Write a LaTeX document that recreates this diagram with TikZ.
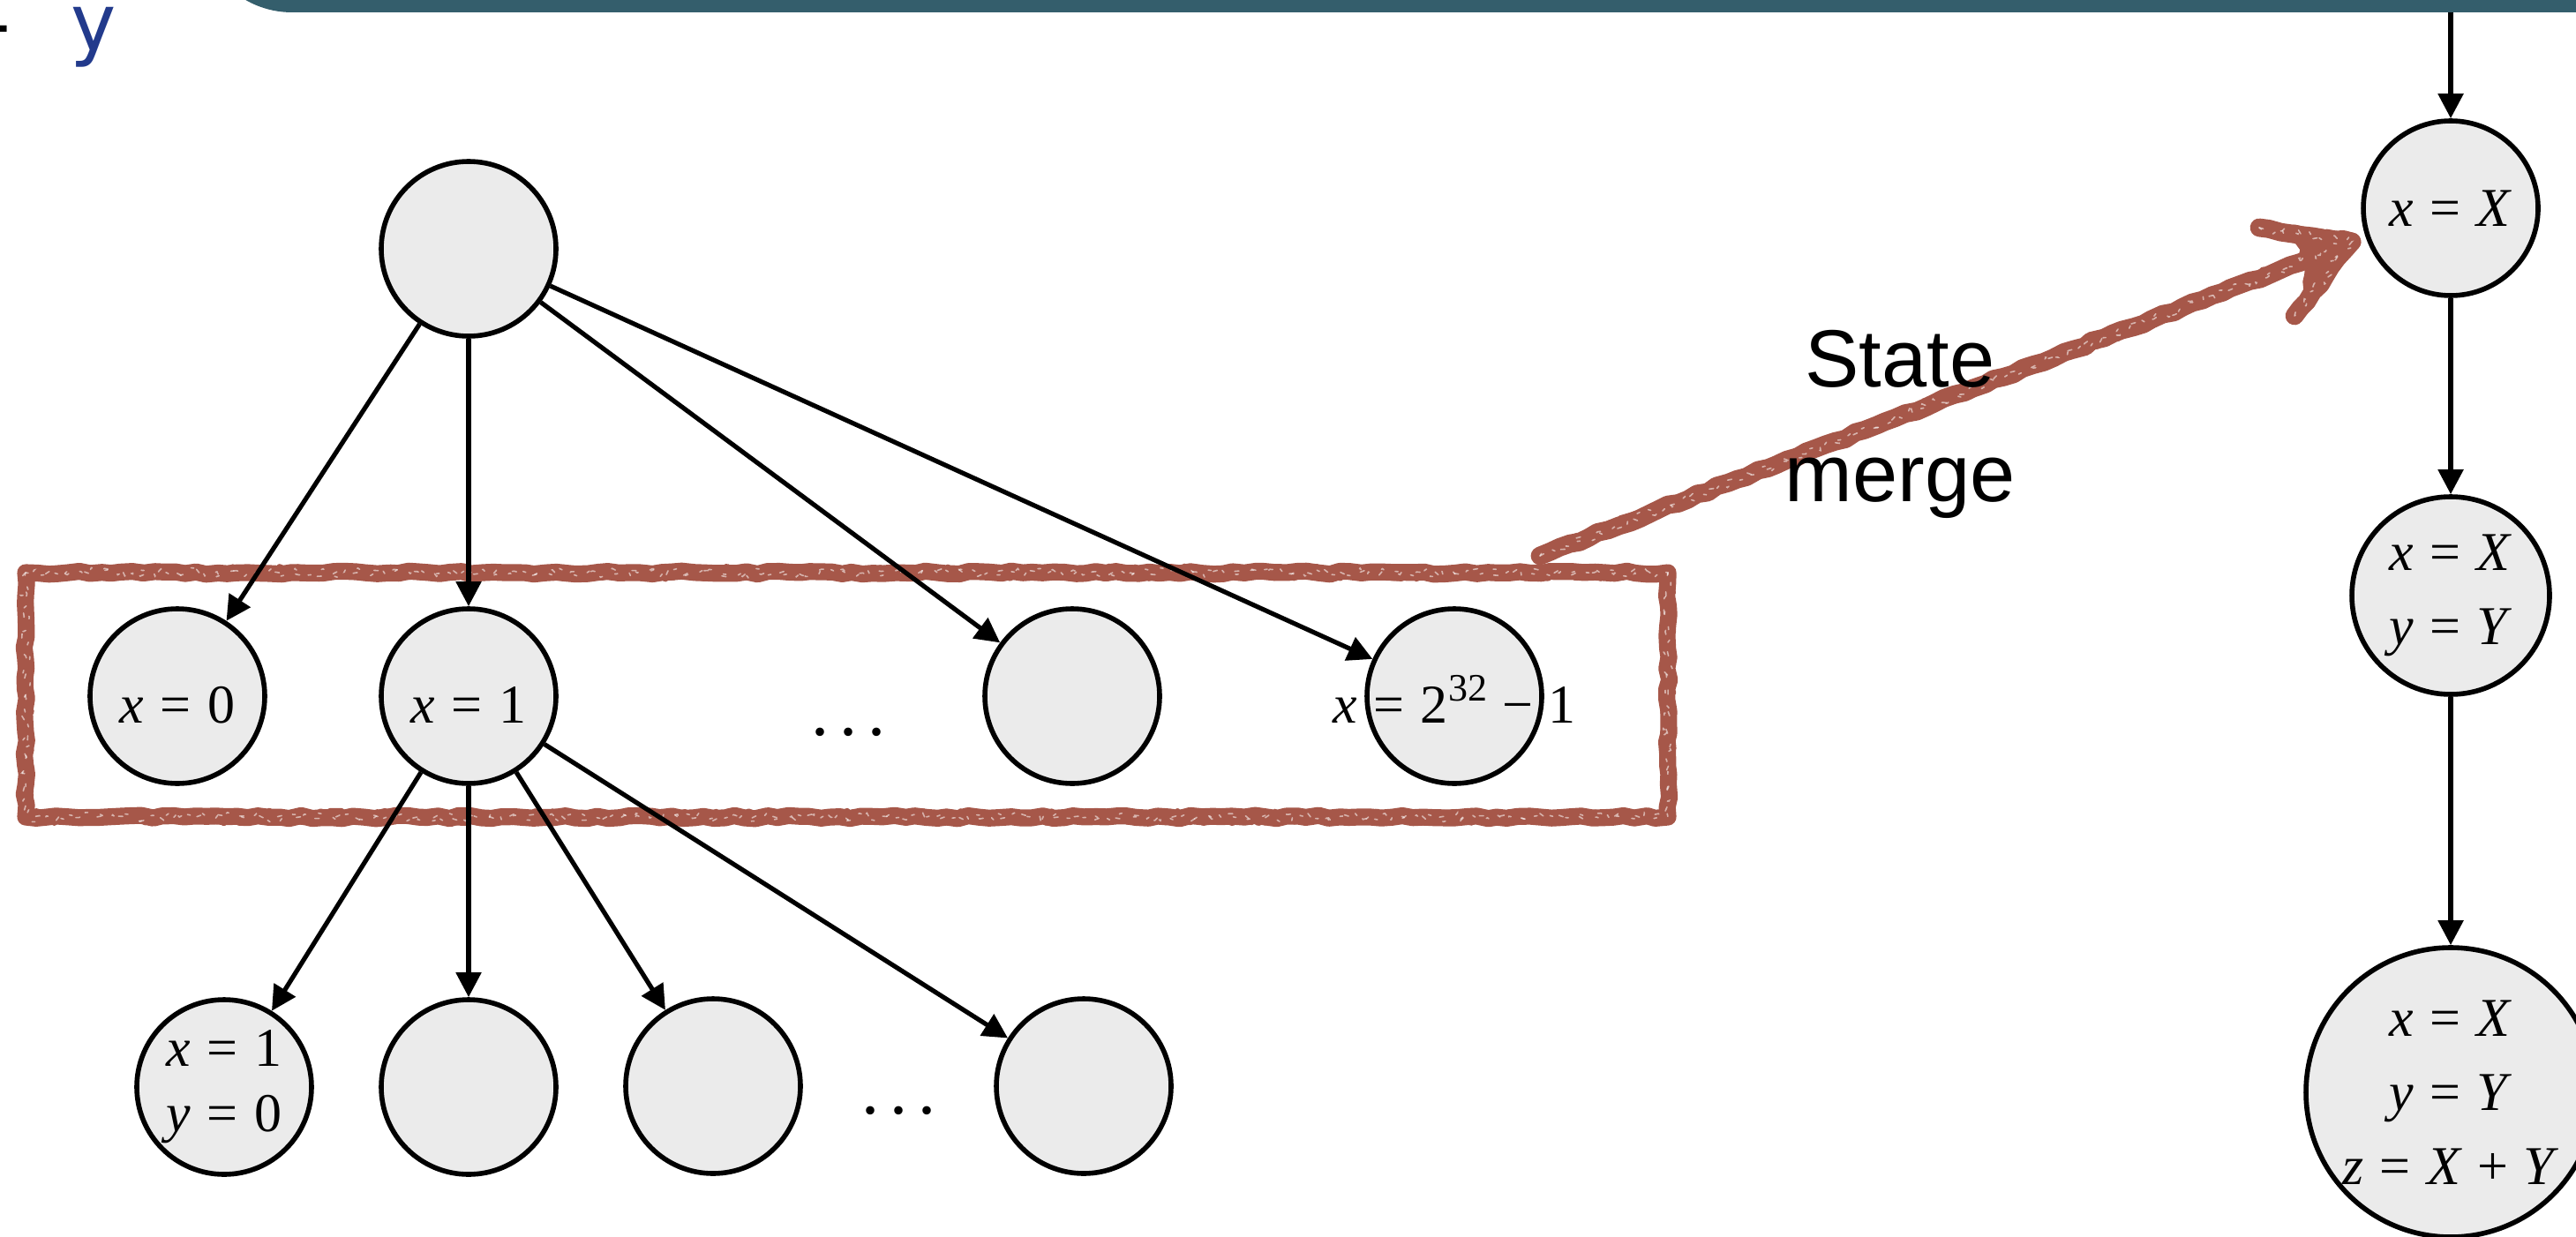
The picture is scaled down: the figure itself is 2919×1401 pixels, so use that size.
\documentclass[tikz,border=0pt]{standalone}
\usepackage{fontspec}
\usetikzlibrary{arrows.meta,decorations.pathmorphing}

\newfontfamily\eqfont{Liberation Serif}
\newfontfamily\labelfont{Liberation Sans}
\newfontfamily\codefont{DejaVu Sans Mono}

\definecolor{barteal}{RGB}{52,94,108}
\definecolor{codeblue}{RGB}{34,58,140}
\definecolor{chalkred}{RGB}{166,87,73}
\definecolor{nodefill}{RGB}{235,235,235}

% equation pieces set in text fonts
\newcommand\V[1]{\textit{#1}}
\newcommand\EqRel{\hspace{0.3em}=\hspace{0.3em}}
\newcommand\OpBin[1]{\hspace{0.28em}#1\hspace{0.28em}}
\newcommand\Sup[1]{\raisebox{0.4em}{\fontsize{11}{11}\selectfont #1}}

% hand-drawn marker stroke: a thick core plus ragged passes and light speckles
\newcommand\chalkpath[2][4.8pt]{%
  \draw[chalkline, line width=#1] #2;
  \draw[chalkline, line width=1.6pt,
        decoration={random steps, segment length=1.6pt, amplitude=1.7pt}] #2;
  \draw[chalkline, line width=1.6pt,
        decoration={random steps, segment length=2.2pt, amplitude=1.8pt}] #2;
  \draw[chalkspeck] #2;
  \draw[chalkspeck, dash pattern=on 0.8pt off 3.7pt,
        decoration={random steps, segment length=1.7pt, amplitude=1.4pt}] #2;
}

\begin{document}
\begin{tikzpicture}[x=0.25pt,y=-0.25pt,
  state/.style={circle, draw=black, line width=1.4pt, fill=nodefill,
    minimum size=49.5pt, inner sep=0pt, align=center,
    font=\eqfont\fontsize{15.5}{18.5}\selectfont},
  lowtext/.style={text height=15pt, text depth=0pt},
  eqlabel/.style={inner sep=0pt, text height=15pt, text depth=0pt,
    font=\eqfont\fontsize{15.5}{18.5}\selectfont},
  ellipsis/.style={inner sep=0pt, anchor=base,
    font=\eqfont\fontsize{20}{20}\selectfont},
  edge/.style={line width=1.3pt, -{Triangle[length=7pt,width=7pt]}},
  chalkline/.style={draw=chalkred, line cap=round, line join=round,
    decorate, decoration={random steps, segment length=3pt, amplitude=0.45pt}},
  chalkspeck/.style={draw=white, opacity=0.55, line width=0.4pt,
    dash pattern=on 1.2pt off 5pt, line cap=round,
    decorate, decoration={random steps, segment length=2pt, amplitude=1.2pt}},
]
\pgfmathsetseed{4242}
\useasboundingbox (0,0) rectangle (2919,1401);

% header bar and code fragment
\fill[barteal, rounded corners=26.5pt] (225,-400) rectangle (3100,14);
\node[anchor=base west, inner sep=0pt, font=\codefont\fontsize{22.5}{22.5}\selectfont]
  (code) at (-31,58) {- \textcolor{codeblue}{y}};

% highlighted level of the tree
\coordinate (boxnw) at (29,649);
\coordinate (boxse) at (1890,926);
\chalkpath{(boxnw) rectangle (boxse)}

% forked states
\node[state] (root) at (531,282) {};
\node[state, lowtext] (n0) at (201,789) {\V{x}\EqRel 0};
\node[state, lowtext] (n1) at (531,789) {\V{x}\EqRel 1};
\node[ellipsis] (dotsA) at (961,833) {.\hspace{3pt}.\hspace{3pt}.};
\node[state] (n2) at (1215,789) {};
\node[state, label={[eqlabel]center:\V{x}\EqRel 2\Sup{32}\OpBin{−}1}] (nmax) at (1648,789) {};

\node[state] (m0) at (254,1232) {\V{x}\EqRel 1\\\V{y}\EqRel 0};
\node[state] (m1) at (531,1232) {};
\node[state] (m2) at (808,1231) {};
\node[ellipsis] (dotsB) at (1018,1262) {.\hspace{3pt}.\hspace{3pt}.};
\node[state] (m3) at (1228,1231) {};

% merged path
\node[state] (r0) at (2777,236) {\V{x}\EqRel\V{X}};
\node[state, minimum size=56pt, font=\eqfont\fontsize{15.5}{21}\selectfont] (r1) at (2777,675)
  {\V{x}\EqRel\V{X}\\\V{y}\EqRel\V{Y}};
\node[state, minimum size=82pt, font=\eqfont\fontsize{15.5}{21}\selectfont] (r2) at (2777,1238)
  {\V{x}\EqRel\V{X}\\\V{y}\EqRel\V{Y}\\\V{z}\EqRel\V{X}\OpBin{+}\V{Y}};

% tree edges
\draw[edge] (root) -- (n0);
\draw[edge] (root) -- (n1);
\draw[edge] (root) -- (n2);
\draw[edge] (root) -- (nmax);
\draw[edge] (n1) -- (m0);
\draw[edge] (n1) -- (m1);
\draw[edge] (n1) -- (m2);
\draw[edge] (n1) -- (m3);

\coordinate (bartap) at (2777,14);
\draw[edge] (bartap) -- (r0);
\draw[edge] (r0) -- (r1);
\draw[edge] (r1) -- (r2);

% merge annotation arrow
\coordinate (mergefrom) at (1745,630);
\coordinate (mergetip) at (2665,274);
\coordinate (barbA) at (2560,258);
\coordinate (barbB) at (2600,358);
\coordinate (wedgeA) at (2590,264);
\coordinate (wedgeM) at (2612,302);
\coordinate (wedgeB) at (2614,330);
\fill[chalkred, decorate, decoration={random steps, segment length=2pt, amplitude=1.2pt}]
  (mergetip) -- (wedgeA) -- (wedgeM) -- (wedgeB) -- cycle;
\chalkpath[5.2pt]{(mergefrom) -- (mergetip)}
\chalkpath[5.2pt]{(barbA) -- (mergetip) -- (barbB)}

\node[anchor=base, inner sep=0pt, font=\labelfont\fontsize{23}{32.5}\selectfont]
  (mergelabel) at (2153,438) {\begin{tabular}[t]{@{}c@{}}State\\merge\end{tabular}};
\end{tikzpicture}
\end{document}
